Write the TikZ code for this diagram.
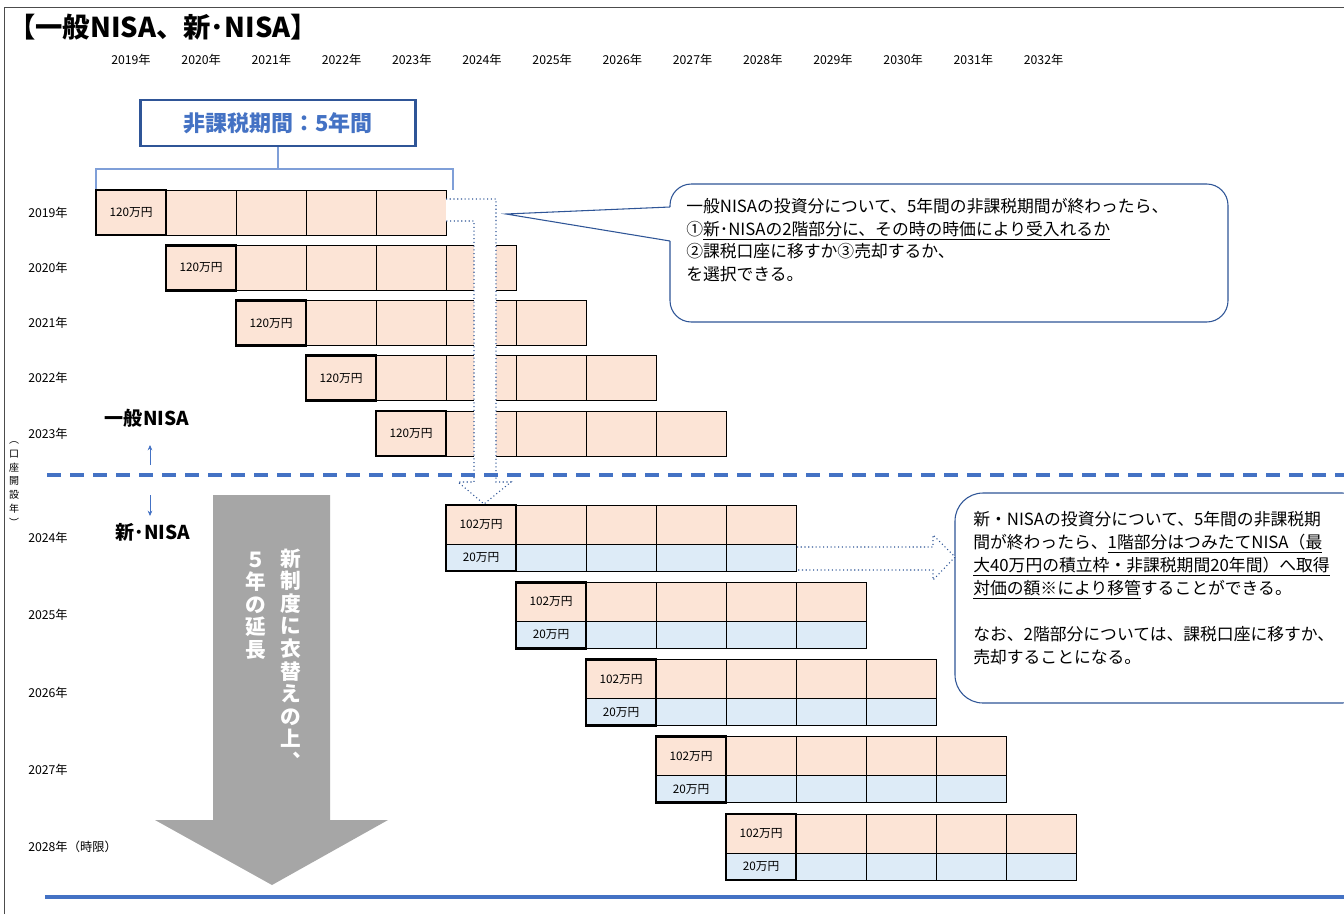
\documentclass[tikz,border=0pt]{standalone}
\usepackage{fontspec}
\setmainfont{Noto Sans CJK JP}
\usetikzlibrary{arrows.meta}
\definecolor{peach}{HTML}{FCE4D6}
\definecolor{lblue}{HTML}{DDEBF7}
\definecolor{dblue}{HTML}{2F5597}
\definecolor{mblue}{HTML}{4472C4}
\definecolor{brk}{HTML}{7F9FD8}
\definecolor{agray}{HTML}{A6A6A6}
\begin{document}
\begin{tikzpicture}[x=0.75pt,y=-0.75pt,
  cellp/.style={fill=peach,draw=black,line width=0.75pt},
  cellb/.style={fill=lblue,draw=black,line width=0.75pt},
  thickb/.style={draw=black,line width=1.9pt},
  yr/.style={font=\fontsize{9.2}{10}\selectfont, inner sep=0pt},
  amt/.style={font=\fontsize{8.8}{10}\selectfont, inner sep=0pt},
  dotarrow/.style={fill=white,draw=dblue,dotted,line width=0.8pt},
  callout/.style={draw=dblue,line width=0.8pt,fill=white},
  ctext/.style={font=\fontsize{12.6}{14}\selectfont, inner sep=0pt, anchor=west, text height=11pt, text depth=2.6pt},
  vtext/.style={font=\fontsize{15.5}{16.9}\selectfont\bfseries, text=white, align=center, inner sep=0pt},
]
\useasboundingbox (0,0) rectangle (1344,914);
\fill[white] (0,0) rectangle (1344,914);
\clip (0,0) rectangle (1344,914);

% frame
\draw[line width=0.75pt, draw=black!70] (4,914) -- (4,7) -- (1344,7);

% title
\node[anchor=west, font=\fontsize{20.5}{22}\selectfont\bfseries, inner sep=0pt] (title) at (8,27) {【一般NISA、新･NISA】};

% header years
\foreach \i [evaluate=\i as \y using int(2019+\i)] in {0,...,13}{
  \node[yr] (h\i) at (131+70.2*\i,60) {\y 年};
}

% bracket and period box
\node[draw=dblue, line width=2.2pt, minimum width=206pt, minimum height=34.5pt, inner sep=0pt,
      font=\fontsize{16.5}{18}\selectfont\bfseries, text=mblue] (kikan) at (278,123) {非課税期間：5年間};
\coordinate (bl) at (96,190);
\coordinate (br) at (453,190);
\draw[brk, line width=0.9pt] (bl) -- (96,169) -- (453,169) -- (br);
\draw[brk, line width=0.9pt] (278,169) -- (kikan.south);

% general NISA rows
\foreach \r in {0,...,4}{
  \pgfmathsetmacro\xo{96+70*\r}
  \pgfmathsetmacro\yo{190+55.25*\r}
  \foreach \c in {0,...,4}{
    \draw[cellp] (\xo+70*\c,\yo) rectangle ++(70,45);
  }
  \draw[thickb] (\xo,\yo) rectangle ++(70,45);
  \node[amt] (g\r) at (\xo+35,\yo+22.5) {120万円};
}
\foreach \r/\t in {0/2019,1/2020,2/2021,3/2022,4/2023}{
  \node[yr, anchor=west] (gl\r) at (28,212.5+55.25*\r) {\t 年};
}

% new NISA rows
\foreach \r in {0,...,4}{
  \pgfmathsetmacro\xo{446+70*\r}
  \pgfmathsetmacro\yo{505+77.25*\r}
  \foreach \c in {0,...,4}{
    \draw[cellp] (\xo+70*\c,\yo) rectangle ++(70,39);
    \draw[cellb] (\xo+70*\c,\yo+39) rectangle ++(70,27);
  }
  \draw[thickb] (\xo,\yo) rectangle ++(70,66);
  \node[amt] (na\r) at (\xo+35,\yo+19.5) {102万円};
  \node[amt] (nb\r) at (\xo+35,\yo+52.5) {20万円};
}
\foreach \r/\t in {0/2024年,1/2025年,2/2026年,3/2027年,4/2028年（時限）}{
  \node[yr, anchor=west] (nl\r) at (28,538+77.25*\r) {\t};
}

% bent dotted arrow (2019 -> 2024)
\draw[dotarrow] (446,199) -- (496,199) -- (496,482) -- (511,482) -- (484,504)
  -- (458,482) -- (474,482) -- (474,221) -- (446,221);

% callout 1
\draw[callout, rounded corners=16pt] (670,184) rectangle (1228,322);
\coordinate (tip1) at (506,214);
\fill[white] (671.5,207) -- (tip1) -- (671.5,241) -- cycle;
\draw[dblue, line width=0.8pt] (670,207) -- (tip1) -- (670,241);
\node[ctext] (c1a) at (686,207) {一般NISAの投資分について、5年間の非課税期間が終わったら、};
\node[ctext] (c1b) at (686,230) {①\underline{新･NISAの2階部分に、その時の時価により受入れるか}};
\node[ctext] (c1c) at (686,252) {②課税口座に移すか③売却するか、};
\node[ctext] (c1d) at (686,275) {を選択できる。};

% callout 2
\draw[callout, rounded corners=21pt] (955,493) rectangle (1370,703);
\node[ctext] (c2a) at (973,520) {新・NISAの投資分について、5年間の非課税期};
\node[ctext] (c2b) at (973,543) {間が終わったら、\underline{1階部分はつみたてNISA（最}};
\node[ctext] (c2c) at (973,566) {\underline{大40万円の積立枠・非課税期間20年間）へ取得}};
\node[ctext] (c2d) at (973,589) {\underline{対価の額※により移管}することができる。};
\node[ctext] (c2e) at (973,635) {なお、2階部分については、課税口座に移すか、};
\node[ctext] (c2f) at (973,658) {売却することになる。};

% right dotted arrow
\draw[dotarrow] (797,547) -- (933,547) -- (933,535) -- (955,557) -- (933,580) -- (933,570) -- (797,570);

% dashed divider
\draw[mblue, line width=2.6pt, dash pattern=on 10.5pt off 6.75pt] (47,475) -- (1344,475);

% labels
\node[font=\fontsize{14.3}{15}\selectfont\bfseries, inner sep=0pt] (ippan) at (147,418) {一般NISA};
\node[font=\fontsize{14.3}{15}\selectfont\bfseries, inner sep=0pt] (shin) at (153,532) {新･NISA};
\coordinate (ua) at (150,465);
\coordinate (ub) at (150,445);
\coordinate (da) at (150,495);
\coordinate (db) at (150,516);
\draw[mblue, line width=0.6pt, -{Stealth[length=4pt,width=3.5pt]}] (ua) -- (ub);
\draw[mblue, line width=0.6pt, -{Stealth[length=4pt,width=3.5pt]}] (da) -- (db);

\node[font=\fontsize{7.5}{10.4}\selectfont, align=center, inner sep=0pt] (kaisetsu) at (14,484)
  {︵\\口\\座\\開\\設\\年\\︶};

% grey arrow
\fill[agray] (213,495) -- (330,495) -- (330,820) -- (388,820) -- (272,885) -- (155,820) -- (213,820) -- cycle;
\node[vtext] (vr) at (291,659) {新\\制\\度\\に\\衣\\替\\え\\の\\上\\︑};
\node[vtext] (vl) at (256,605.5) {５\\年\\の\\延\\長};

% bottom line
\draw[mblue, line width=2.3pt] (45,897) -- (1344,897);
\end{tikzpicture}
\end{document}
